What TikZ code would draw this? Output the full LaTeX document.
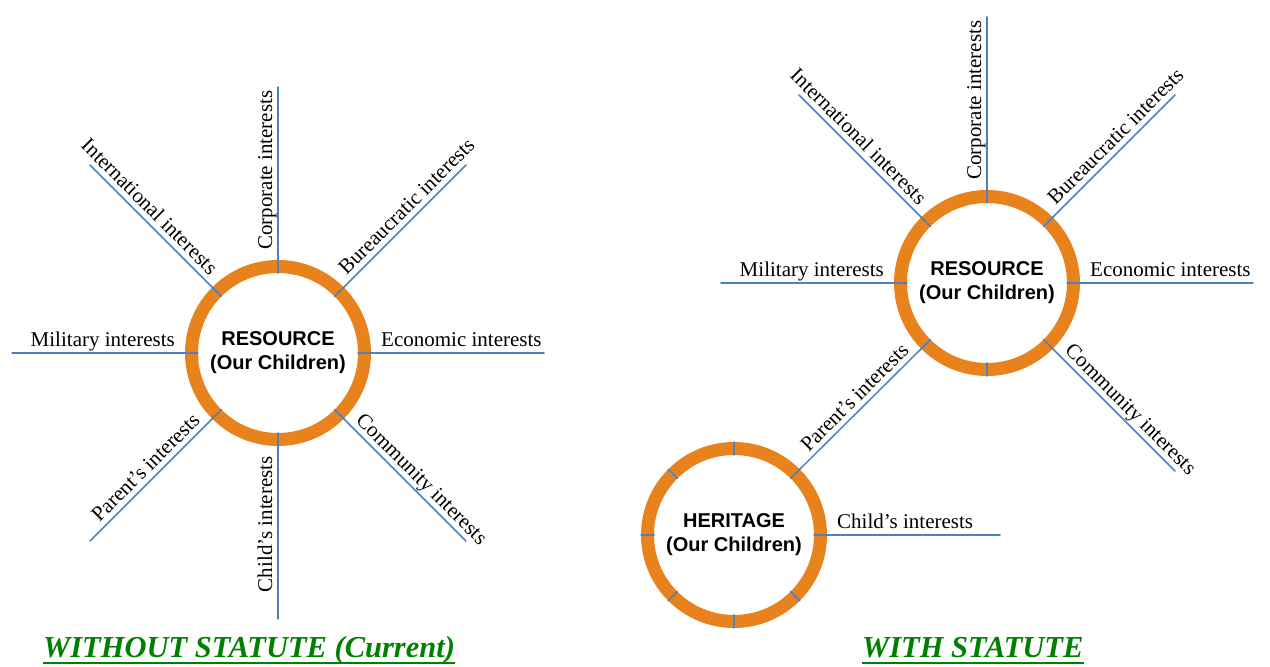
\documentclass[tikz,border=0pt]{standalone}
\usepackage{fontspec}
\setmainfont{Liberation Serif}
\newfontfamily\ringfont{Liberation Sans}
\usetikzlibrary{calc}
\definecolor{ringorange}{RGB}{232,130,28}
\definecolor{spokeblue}{RGB}{79,129,189}
\definecolor{titlegreen}{RGB}{0,128,0}
\begin{document}
\begin{tikzpicture}[line join=round,line cap=round,x=1pt,y=1pt,
    ring/.style={circle,draw=ringorange,line width=13pt,minimum size=173pt,
        inner sep=0pt,outer sep=0pt,fill=white,align=center,
        font=\ringfont\bfseries\fontsize{20}{24}\selectfont},
    spoke/.style={draw=spokeblue,line width=1.5pt},
    interest/.style={inner sep=0pt,font=\fontsize{21}{24}\selectfont},
    heading/.style={inner sep=0pt,anchor=base west,text=titlegreen,
        font=\bfseries\itshape\fontsize{30.5}{34}\selectfont}]
    \useasboundingbox (0,0) rectangle (1270,667);
    % the three rings
    \node[ring] (resL) at (278,314) {RESOURCE\\(Our Children)};
    \node[ring] (resR) at (987,384) {RESOURCE\\(Our Children)};
    \node[ring] (herR) at (734,132) {HERITAGE\\(Our Children)};
    \foreach \c in {resL,resR,herR}
        \foreach \a in {0,45,...,315}
            \draw[spoke] ($(\c.center)+(\a:80)$) -- ($(\c.center)+(\a:93)$);
    % spokes: angle / text angle / text anchor / text
    \foreach \c/\a/\r/\an/\t in {
        resL/90/90/west/Corporate interests,
        resL/45/45/west/Bureaucratic interests,
        resL/0/0/west/Economic interests,
        resL/-45/-45/west/Community interests,
        resL/270/90/east/Child's interests,
        resL/225/45/east/Parent's interests,
        resL/180/0/east/Military interests,
        resL/135/-45/east/International interests,
        resR/90/90/west/Corporate interests,
        resR/45/45/west/Bureaucratic interests,
        resR/0/0/west/Economic interests,
        resR/-45/-45/west/Community interests,
        resR/180/0/east/Military interests,
        resR/135/-45/east/International interests,
        herR/0/0/west/Child's interests}{
        \path (\c.center) ++(\a:266) coordinate (end-\c\a);
        \draw[spoke] (\c.\a) -- (end-\c\a);
        \node[interest,rotate=\r,anchor=base \an] (lbl-\c\a)
            at ($(\c.center)+(\a:103)+(\r+90:6)$) {\t};
    }
    % parent link between the two rings
    \draw[spoke] (resR.225) -- (herR.45);
    \node[interest,rotate=45,anchor=base east] (lbl-parent)
        at ($(resR.center)+(225:103)+(135:6)$) {Parent's interests};
    % headings
    \node[heading] (ttlL) at (43,9) {WITHOUT STATUTE (Current)};
    \node[heading] (ttlR) at (862,9) {WITH STATUTE};
    \foreach \n in {ttlL,ttlR}
        \draw[titlegreen,line width=2pt,line cap=butt]
            ([yshift=-5pt]\n.base west) -- ([yshift=-5pt]\n.base east);
\end{tikzpicture}
\end{document}
